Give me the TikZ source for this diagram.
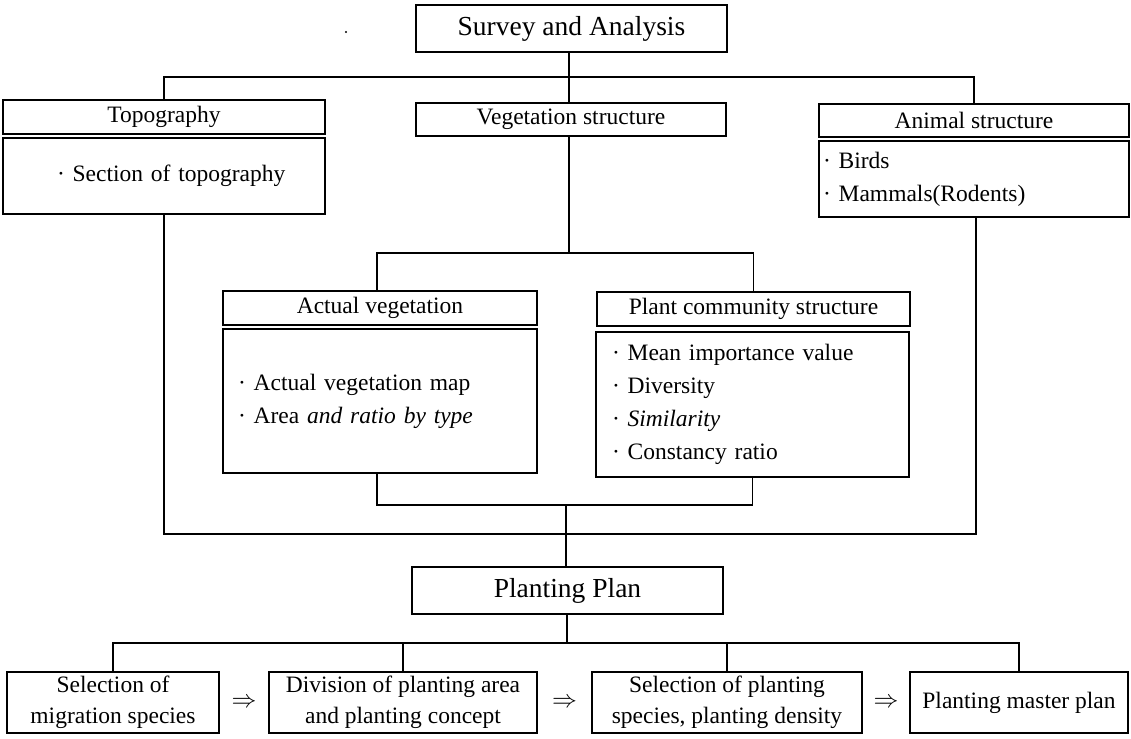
\documentclass[tikz,border=0pt]{standalone}
\usepackage{fontspec}
\setmainfont{Liberation Serif}
\usetikzlibrary{calc}
\newcommand\dgbody{\fontsize{23.5}{33}\selectfont}
\newcommand\dgtitle{\fontsize{27.5}{33}\selectfont}
\begin{document}
\begin{tikzpicture}[x=1pt,y=-1pt,
  box/.style={draw, line width=1.3pt, inner sep=0pt, font=\dgbody, align=center},
  list/.style={box, align=left, inner xsep=4pt},
  ln/.style={line width=1.3pt},
  imp/.style={font=\fontsize{27}{30}\selectfont, inner sep=0pt}]
\useasboundingbox (0,0) rectangle (1131,738);

% top level
\node[box, font=\dgtitle, minimum width=311, minimum height=47] (survey) at (571.5,28.5) {Survey and Analysis};
\node[circle, fill, inner sep=0pt, minimum size=2.4pt] (speck) at (346,32) {};

\node[box, minimum width=322, minimum height=34] (topoH) at (164,117) {Topography};
\node[list, minimum width=322, minimum height=76, text width=314pt] (topoB) at (164,176)
  {\hspace*{50pt}· Section of topography};

\node[box, minimum width=310, minimum height=33] (veg) at (571,119.5) {Vegetation structure};

\node[box, minimum width=310, minimum height=33] (animH) at (974,120.5) {Animal structure};
\node[list, minimum width=310, minimum height=76, text width=302pt] (animB) at (974,179)
  {· Birds\\· Mammals(Rodents)};

% vegetation sub-level
\node[box, minimum width=314, minimum height=34] (actH) at (380,308) {Actual vegetation};
\node[list, minimum width=314, minimum height=144, text width=306pt] (actB) at (380,401)
  {\hspace*{11pt}· Actual vegetation map\\\hspace*{11pt}· Area \textit{and ratio by type}};

\node[box, minimum width=313, minimum height=34] (plantH) at (753.5,309) {Plant community structure};
\node[list, minimum width=313, minimum height=145, text width=305pt] (plantB) at (752.5,404.5)
  {\hspace*{12pt}· Mean importance value\\\hspace*{12pt}· Diversity\\\hspace*{12pt}· \textit{Similarity}\\\hspace*{12pt}· Constancy ratio};

% planting plan
\node[box, font=\dgtitle, minimum width=311, minimum height=47] (plan) at (567.5,590.5) {Planting Plan};

\node[box, minimum width=212, minimum height=61, font=\fontsize{23.5}{31}\selectfont] (b1) at (113,702.5) {Selection of\\migration species};
\node[box, minimum width=268, minimum height=61, font=\fontsize{23.5}{31}\selectfont] (b2) at (403,702.5) {Division of planting area\\and planting concept};
\node[box, minimum width=270, minimum height=61, font=\fontsize{23.5}{31}\selectfont] (b3) at (727,702.5) {Selection of planting\\species, planting density};
\node[box, minimum width=218, minimum height=61, font=\fontsize{23.5}{31}\selectfont] (b4) at (1019,702.5) {Planting master plan};

\node[imp] (a1) at ($(b1.east)!0.5!(b2.west)$) {$\Rightarrow$};
\node[imp] (a2) at ($(b2.east)!0.5!(b3.west)$) {$\Rightarrow$};
\node[imp] (a3) at ($(b3.east)!0.5!(b4.west)$) {$\Rightarrow$};

% junctions
\coordinate (j1) at (569,77);
\coordinate (j2) at (569,253);
\coordinate (j4) at (566,505);
\coordinate (j3) at (566,534);
\coordinate (j5) at (567,643);

% connectors
\draw[ln] (survey.south -| j1) -- (veg.north -| j1);
\draw[ln] (topoH.north) |- (j1) -| (animH.north);
\draw[ln] (veg.south -| j2) -- (j2);
\draw[ln] (actH.north -| 377,0) |- (j2) -| (plantH.north);
\draw[ln] (actB.south -| 377,0) |- (j4) -| (plantB.south);
\draw[ln] (topoB.south) |- (j3) -| (animB.south -| 976,0);
\draw[ln] (j4) -- (plan.north -| j4);
\draw[ln] (plan.south -| j5) -- (j5);
\draw[ln] (b1.north) |- (j5) -| (b4.north);
\draw[ln] (b2.north) -- (b2.north |- j5);
\draw[ln] (b3.north) -- (b3.north |- j5);
\end{tikzpicture}
\end{document}
